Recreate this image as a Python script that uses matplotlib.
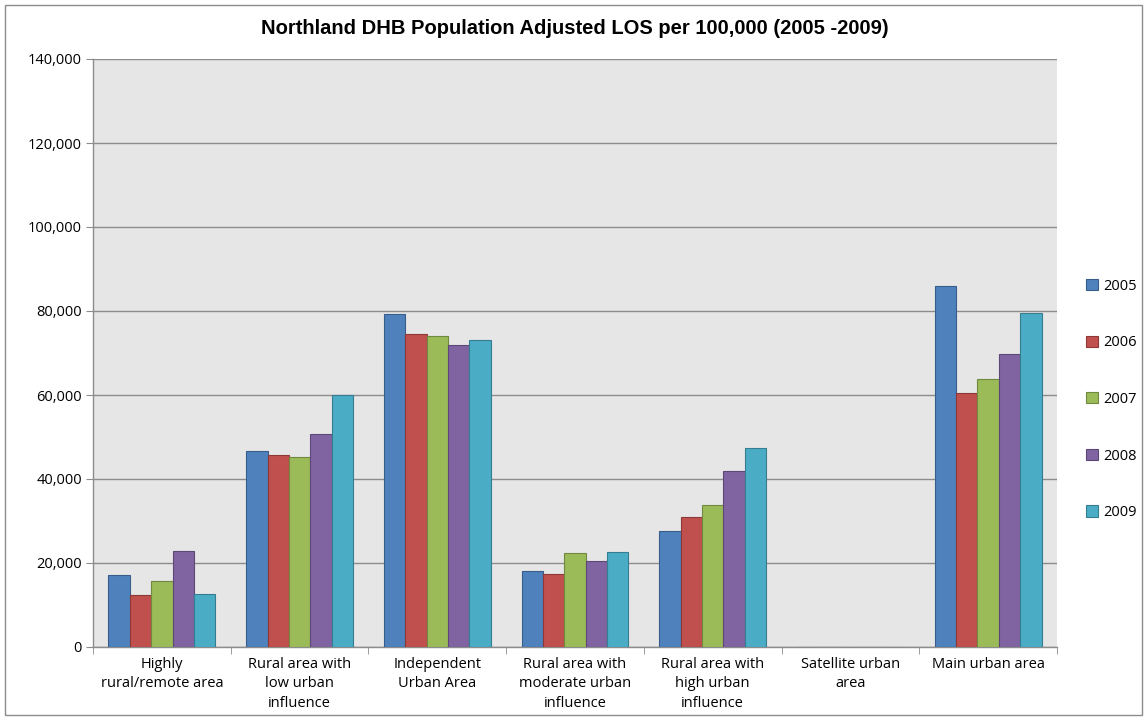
import matplotlib
matplotlib.use("Agg")
import matplotlib.pyplot as plt
import numpy as np
from matplotlib.ticker import FuncFormatter, FixedLocator
from matplotlib.patches import Rectangle

categories = ["Highly\nrural/remote area", "Rural area with\nlow urban\ninfluence",
              "Independent\nUrban Area", "Rural area with\nmoderate urban\ninfluence",
              "Rural area with\nhigh urban\ninfluence", "Satellite urban\narea",
              "Main urban area"]
years = ["2005", "2006", "2007", "2008", "2009"]
v2005 = [17100, 46700, 79200, 18000, 27700, 0, 85900]
v2006 = [12500, 45800, 74600, 17400, 30900, 0, 60400]
v2007 = [15700, 45300, 74000, 22400, 33800, 0, 63800]
v2008 = [22800, 50800, 71900, 20400, 42000, 0, 69800]
v2009 = [12700, 60100, 73100, 22700, 47300, 0, 79500]
series = [v2005, v2006, v2007, v2008, v2009]
yticks = [0, 20000, 40000, 60000, 80000, 100000, 120000, 140000]

colors = ["#4F81BD", "#C0504D", "#9BBB59", "#8064A2", "#4BACC6"]
edges = ["#385D8A", "#8C3836", "#71893F", "#5C4776", "#357D91"]

W, H = 1147, 720
fig = plt.figure(figsize=(W / 100, H / 100), dpi=100)
ax = fig.add_axes([93 / W, 1 - 647 / H, (1057 - 93) / W, (647 - 59) / H])
ax.set_facecolor("#E6E6E6")

lab_font = "Open Sans"
n = len(categories)
x = np.arange(n)
bw = 0.155
for i, (vals, c, ec, yr) in enumerate(zip(series, colors, edges, years)):
    ax.bar(x + (i - 2) * bw, vals, width=bw, color=c, edgecolor=ec, linewidth=0.8,
           label=yr, zorder=3)

ax.set_xlim(-0.5, n - 0.5)
ax.set_ylim(0, 140000)
ax.yaxis.set_major_locator(FixedLocator(yticks))
ax.yaxis.set_major_formatter(FuncFormatter(lambda v, p: f"{int(v):,}"))
ax.grid(axis="y", color="#8C8C8C", linewidth=1.0, zorder=1)
ax.set_axisbelow(True)

ax.set_xticks(x)
ax.set_xticklabels(categories, fontsize=10.5, family=lab_font, linespacing=1.4)
ax.xaxis.set_minor_locator(FixedLocator(np.arange(-0.5, n, 1.0)))
ax.tick_params(axis="x", which="major", length=0, pad=7)
ax.tick_params(axis="x", which="minor", length=5, color="#8C8C8C", direction="out")
ax.tick_params(axis="y", length=5, color="#8C8C8C", labelsize=10.5, pad=3)
for t in ax.get_yticklabels():
    t.set_family(lab_font)

for s in ["top", "right"]:
    ax.spines[s].set_visible(False)
for s in ["left", "bottom"]:
    ax.spines[s].set_color("#8C8C8C")
    ax.spines[s].set_linewidth(1.0)

fig.text(575 / W, 1 - 29 / H, "Northland DHB Population Adjusted LOS per 100,000 (2005 -2009)",
         ha="center", va="center", fontsize=14.5, fontweight="bold", family="Liberation Sans")

leg = fig.legend(loc="upper left", bbox_to_anchor=(1080 / W, 1 - 273 / H), frameon=False,
                 prop={"family": lab_font, "size": 10.5}, labelspacing=2.85,
                 handlelength=0.8, handleheight=0.8, handletextpad=0.4, borderaxespad=0)

fig.patches.append(Rectangle((5 / W, 5 / H), (W - 10) / W, (H - 10) / H,
                             transform=fig.transFigure, fill=False,
                             edgecolor="#8C8C8C", linewidth=1.0))

fig.savefig("out.png", dpi=100)
